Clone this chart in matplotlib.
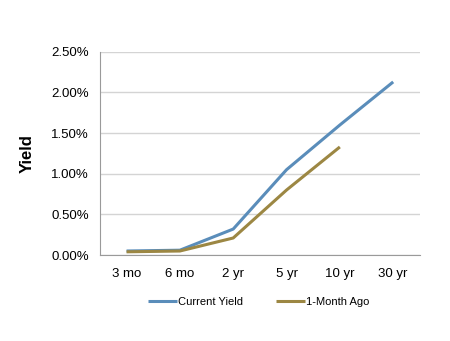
import matplotlib
matplotlib.use('Agg')
import matplotlib.pyplot as plt
from matplotlib.ticker import FuncFormatter

plt.rcParams['font.family'] = ['Liberation Sans', 'DejaVu Sans']

maturities = ['3 mo', '6 mo', '2 yr', '5 yr', '10 yr', '30 yr']
current_yield = [0.05, 0.06, 0.32, 1.05, 1.60, 2.13]
month_ago = [0.04, 0.05, 0.21, 0.80, 1.33]

fig = plt.figure(figsize=(4.5, 3.41), dpi=100)
ax = fig.add_axes([0.222, 0.252, 0.711, 0.596])

x = list(range(len(maturities)))
ax.plot(x, current_yield, color='#5A8DBA', lw=2.2, label='Current Yield', solid_capstyle='butt')
ax.plot(x[:len(month_ago)], month_ago, color='#9C8743', lw=2.2, label='1-Month Ago', solid_capstyle='butt')

ax.set_xlim(-0.5, len(maturities) - 0.5)
ax.set_ylim(0, 2.5)
ax.set_yticks([0, 0.5, 1.0, 1.5, 2.0, 2.5])
ax.yaxis.set_major_formatter(FuncFormatter(lambda v, p: f'{v:.2f}%'))
ax.set_xticks(x)
ax.set_xticklabels(maturities)
ax.tick_params(length=0, labelsize=9.5, pad=8)
ax.tick_params(axis='x', pad=9)

ax.grid(axis='y', color='#D4D4D4', lw=1)
ax.set_axisbelow(True)
for s in ['top', 'right']:
    ax.spines[s].set_visible(False)
for s in ['left', 'bottom']:
    ax.spines[s].set_color('#9A9A9A')

ax.set_ylabel('Yield', fontsize=12, fontweight='bold', labelpad=12)

fig.legend(loc='center', bbox_to_anchor=(0.575, 0.115), ncol=2, frameon=False,
           fontsize=8, handlelength=2.6, handletextpad=0.1, columnspacing=2.9)

fig.savefig('out.png', dpi=100)
